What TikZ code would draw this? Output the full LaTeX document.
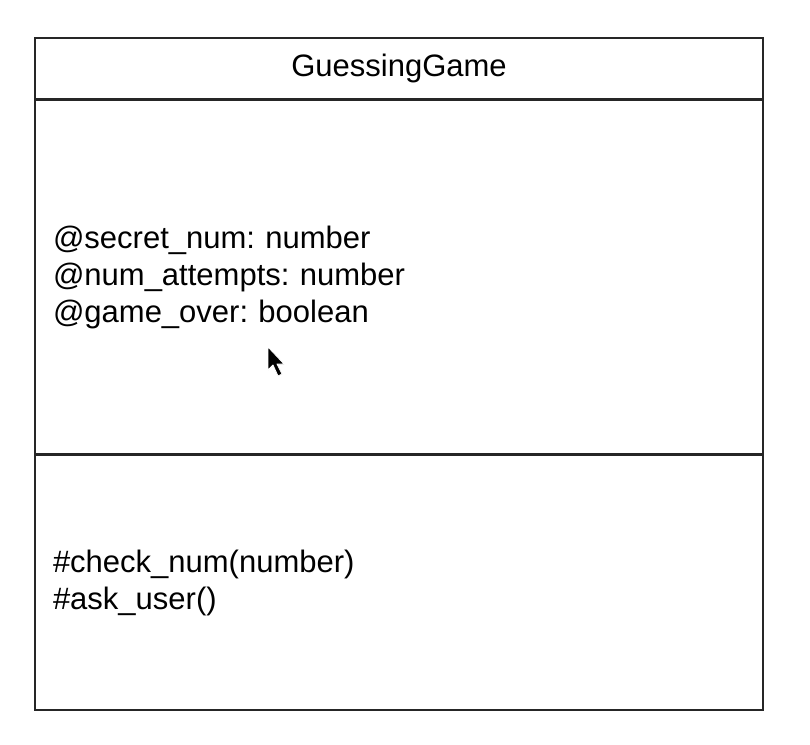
\documentclass[tikz,border=0pt]{standalone}
\usepackage{fontspec}
\setmainfont{Liberation Sans}
\frenchspacing
\usetikzlibrary{positioning}
\begin{document}
\begin{tikzpicture}[x=1pt, y=-1pt, node distance=0pt, every node/.style={font=\fontsize{31}{37}\selectfont}, part/.style={draw=black!85,line width=1.6pt,inner xsep=18pt,inner ysep=0pt,text width=692pt,align=left}]
\useasboundingbox (0,0) rectangle (810,744);
\node[part,align=center,minimum height=61pt] (head) at (399,68.5) {GuessingGame};
\node[part,minimum height=353pt,below=of head] (attrs) {@secret\_num: number\\@num\_attempts: number\\@game\_over: boolean};
\node[part,minimum height=255pt,below=of attrs] (ops) {\#check\_num(number)\\\#ask\_user()};
% mouse pointer
\filldraw[draw=white,line width=0.8pt,fill=black,line join=round] (268,347) -- (268,370) -- (273,365) -- (278,376) -- (282,374) -- (277,364) -- (284,364) -- cycle;
\end{tikzpicture}
\end{document}
